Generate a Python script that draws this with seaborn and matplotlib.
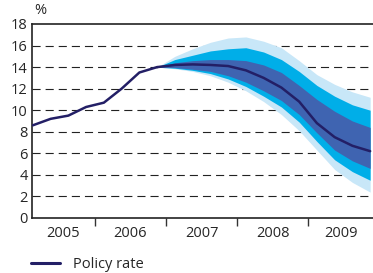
"""Policy rate with forecast fan chart, 2005-2009."""

import numpy as np
import pandas as pd
import matplotlib
matplotlib.use("Agg")
import matplotlib.pyplot as plt
import seaborn as sns

# quarterly data, plotted at mid-quarter
hist_quarters = ["2005Q1", "2005Q2", "2005Q3", "2005Q4",
                 "2006Q1", "2006Q2", "2006Q3", "2006Q4"]
hist_rate = [8.6, 9.2, 9.5, 10.3, 10.7, 12.0, 13.5, 14.0]

fc_quarters = ["2006Q4", "2007Q1", "2007Q2", "2007Q3", "2007Q4",
               "2008Q1", "2008Q2", "2008Q3", "2008Q4",
               "2009Q1", "2009Q2", "2009Q3", "2009Q4"]
fc_rate = [14.0, 14.2, 14.25, 14.2, 14.1, 13.7, 13.0, 12.1, 10.8, 8.8, 7.5, 6.7, 6.2]

outer_hi = [14.0, 15.0, 15.7, 16.3, 16.7, 16.8, 16.4, 15.8, 14.6, 13.3, 12.4, 11.7, 11.2]
mid_hi = [14.0, 14.7, 15.1, 15.5, 15.7, 15.8, 15.4, 14.7, 13.6, 12.3, 11.3, 10.5, 10.0]
inner_hi = [14.0, 14.4, 14.6, 14.7, 14.7, 14.6, 14.2, 13.5, 12.3, 11.0, 9.9, 9.0, 8.4]
inner_lo = [14.0, 13.95, 13.8, 13.6, 13.2, 12.6, 11.8, 10.9, 9.6, 7.9, 6.3, 5.3, 4.6]
mid_lo = [14.0, 13.9, 13.7, 13.4, 12.9, 12.2, 11.3, 10.3, 8.9, 7.1, 5.4, 4.3, 3.5]
outer_lo = [14.0, 13.85, 13.6, 13.2, 12.6, 11.8, 10.8, 9.6, 8.1, 6.3, 4.5, 3.3, 2.4]

years = [2005, 2006, 2007, 2008, 2009]
yticks = [0, 2, 4, 6, 8, 10, 12, 14, 16, 18]


def quarter_pos(q):
    # mid-point of the quarter as decimal year
    return int(q[:4]) + (int(q[-1]) - 1) * 0.25 + 0.125


sns.set_style("white")
plt.rcParams["font.family"] = ["Open Sans", "DejaVu Sans"]
plt.rcParams["font.size"] = 10

df_hist = pd.DataFrame({"t": [quarter_pos(q) for q in hist_quarters], "rate": hist_rate})
df_fc = pd.DataFrame({"t": [quarter_pos(q) for q in fc_quarters], "rate": fc_rate,
                      "outer_hi": outer_hi, "mid_hi": mid_hi, "inner_hi": inner_hi,
                      "inner_lo": inner_lo, "mid_lo": mid_lo, "outer_lo": outer_lo})

fig = plt.figure(figsize=(3.73, 2.73), dpi=100)
ax = fig.add_axes([0.0858, 0.2015, 0.9142, 0.7106])

# dashed grid behind the fan
for y in yticks[1:-1]:
    ax.axhline(y, color="#222222", lw=0.8, linestyle=(0, (7.3, 4.5)), zorder=0)

# fan bands
ax.fill_between(df_fc["t"], df_fc["outer_lo"], df_fc["outer_hi"], color="#c8e7f8", lw=0, zorder=1)
ax.fill_between(df_fc["t"], df_fc["mid_lo"], df_fc["mid_hi"], color="#00aee8", lw=0, zorder=2)
ax.fill_between(df_fc["t"], df_fc["inner_lo"], df_fc["inner_hi"], color="#3f64b1", lw=0, zorder=3)

line_color = "#231f66"
sns.lineplot(data=df_hist, x="t", y="rate", ax=ax, color=line_color, lw=1.8, zorder=4)
sns.lineplot(data=df_fc, x="t", y="rate", ax=ax, color=line_color, lw=1.8, zorder=4)

x_lo, x_hi = 2005.113, 2009.915
ax.set_xlim(x_lo, x_hi)
ax.set_ylim(0, 18)
ax.set_yticks(yticks)
ax.tick_params(axis="y", length=0, pad=3, labelsize=10.5)
ax.set_xlabel("")
ax.set_ylabel("")

# year labels centred on the visible part of each year, ticks at year boundaries
label_pos = [(max(y, x_lo) + min(y + 1, x_hi)) / 2 for y in years]
ax.set_xticks(label_pos)
ax.set_xticklabels([str(y) for y in years])
ax.tick_params(axis="x", which="major", length=0, pad=6, labelsize=10.5)
ax.set_xticks([2006, 2007, 2008, 2009], minor=True)
ax.tick_params(axis="x", which="minor", bottom=True, length=6, width=1,
               color="#333333", direction="out")

for side in ["left", "bottom", "top"]:
    ax.spines[side].set_color("#222222")
    ax.spines[side].set_linewidth(1.2)
ax.spines["right"].set_visible(False)

fig.text(0.092, 0.935, "%", fontsize=10.5, ha="left", va="bottom")

handle = plt.Line2D([], [], color=line_color, lw=2.2)
fig.legend([handle], ["Policy rate"], loc="center left", bbox_to_anchor=(0.068, 0.03),
           frameon=False, handlelength=1.95, handletextpad=0.9, fontsize=10.5,
           borderaxespad=0)

fig.savefig("out.png", dpi=100)
